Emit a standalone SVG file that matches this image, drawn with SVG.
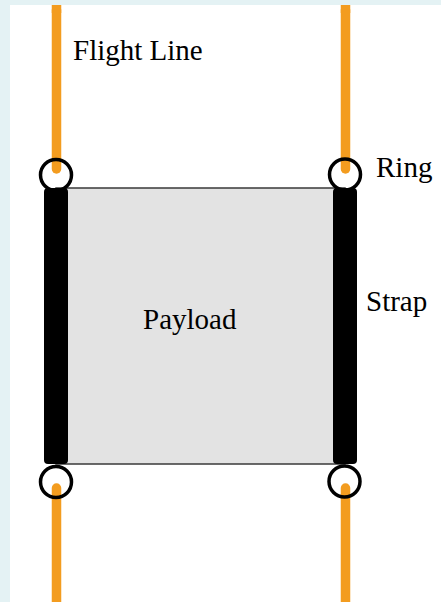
<svg xmlns="http://www.w3.org/2000/svg" width="441" height="602" viewBox="0 0 441 602">
<style>
.line{stroke:#f39c1f;stroke-width:9.5;stroke-linecap:round;fill:none}
.ring{fill:none;stroke:#000;stroke-width:3.5}
.strap{fill:#000}
.lbl{font-family:"Liberation Serif","Times New Roman",serif;font-size:29px;fill:#000}
</style>
<rect x="0" y="0" width="441" height="602" fill="#e4f2f4"/>
<rect x="10" y="5" width="431" height="597" fill="#fff"/>
<g id="connectors">
<path class="line" d="M56.5,10 V169"/>
<path class="line" d="M345.5,10 V169"/>
<path class="line" d="M56.5,488 V610"/>
<path class="line" d="M345.5,488 V610"/>
<rect x="51.75" y="5" width="9.5" height="8" fill="#f39c1f"/>
<rect x="340.75" y="5" width="9.5" height="8" fill="#f39c1f"/>
</g>
<g id="payload">
<rect x="56" y="188" width="289" height="276" fill="#e3e3e3" stroke="#3a3a3a" stroke-width="1.5"/>
<text class="lbl" x="143" y="329">Payload</text>
</g>
<g id="strap-left"><rect class="strap" x="44" y="188" width="24" height="276" rx="4"/></g>
<g id="strap-right"><rect class="strap" x="333" y="188" width="24" height="276" rx="4"/></g>
<g id="ring-tl"><circle class="ring" cx="56" cy="175" r="15.5"/></g>
<g id="ring-tr"><circle class="ring" cx="345" cy="174.5" r="15.5"/></g>
<g id="ring-bl"><circle class="ring" cx="56" cy="482" r="15.5"/></g>
<g id="ring-br"><circle class="ring" cx="344.5" cy="481.5" r="15.5"/></g>
<g id="label-flight"><text class="lbl" x="73" y="60">Flight Line</text></g>
<g id="label-ring"><text class="lbl" x="376" y="177">Ring</text></g>
<g id="label-strap"><text class="lbl" x="366" y="311">Strap</text></g>
</svg>
